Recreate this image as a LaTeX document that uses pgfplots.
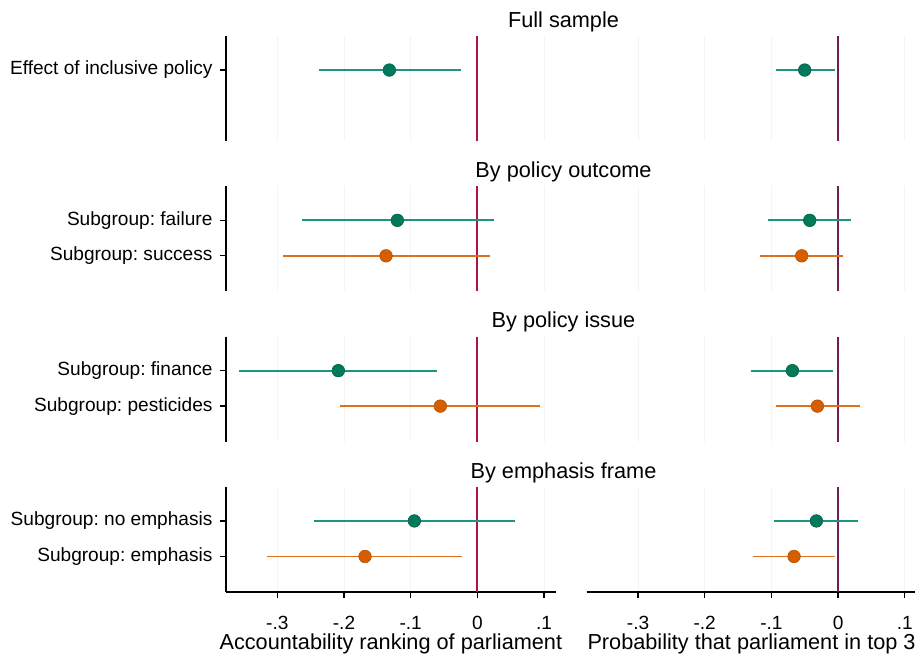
\documentclass[border=0pt]{standalone}
\usepackage{fontspec}
\setmainfont{Liberation Sans}
\usepackage{pgfplots}
\pgfplotsset{compat=1.18}
\frenchspacing

\definecolor{ptG}{RGB}{0,122,90}
\definecolor{lnG}{RGB}{30,150,125}
\definecolor{ptO}{RGB}{213,94,0}
\definecolor{lnO}{RGB}{222,112,30}
\definecolor{zeroL}{RGB}{175,20,70}
\definecolor{zeroR}{RGB}{110,30,80}
\definecolor{gridc}{RGB}{244,244,244}

\newcommand{\lblfont}{\fontsize{19.1bp}{23bp}\selectfont}
\newcommand{\ttlfont}{\fontsize{21.7bp}{26bp}\selectfont}

\pgfplotsset{
  panel/.style={
    scale only axis, width=329.7bp, height=105bp,
    xmin=-0.377, xmax=0.1175, ymin=0.04, ymax=3, y dir=reverse,
    axis x line*=bottom, axis y line*=left,
    xtick={-0.3,-0.2,-0.1,0,0.1},
    xticklabels={-.3,-.2,-.1,0,.1},
    xmajorgrids, major grid style={gridc, line width=0.8bp},
    axis line style={black, line width=1.3bp},
    tick style={black, line width=1.3bp},
    tick align=outside, major tick length=6bp,
    every tick label/.append style={font=\lblfont},
    xticklabel style={anchor=base, yshift=-32bp},
    yticklabel style={xshift=-4bp},
    xlabel style={font=\ttlfont, at={(axis description cs:0.5,0)}, anchor=base, yshift=-57.3bp},
    clip=false, anchor=south west,
  },
  notop/.style={x axis line style={draw=none}, xtick style={draw=none}, xticklabels={}},
  noleft/.style={y axis line style={draw=none}, ytick=\empty},
  ciG/.style={lnG, line width=1.8bp, no marks},
  ciO/.style={lnO, line width=1.8bp, no marks},
  pG/.style={only marks, mark=*, mark size=6.3bp, mark options={fill=ptG, draw=ptG!80!black, line width=0.6bp}},
  pO/.style={only marks, mark=*, mark size=6.3bp, mark options={fill=ptO, draw=ptO!85!black, line width=0.6bp}},
  zL/.style={zeroL, line width=2bp, no marks},
  zR/.style={zeroR, line width=2bp, no marks},
}

\begin{document}
\begin{tikzpicture}
\path[use as bounding box] (0,0) rectangle (915bp,654bp);

% titles of the four rows
\node[font=\ttlfont, anchor=base] at (563.5bp,626.7bp) {Full sample};
\node[font=\ttlfont, anchor=base] at (563.5bp,476.4bp) {By policy outcome};
\node[font=\ttlfont, anchor=base] at (563.5bp,326.1bp) {By policy issue};
\node[font=\ttlfont, anchor=base] at (563.5bp,175.8bp) {By emphasis frame};

% row 1: full sample
\begin{axis}[panel, notop, at={(226bp,513bp)}, ytick={1}, yticklabels={Effect of inclusive policy}]
  \addplot[zL] coordinates {(0,0.04) (0,3)};
  \addplot[ciG] coordinates {(-0.2375,1) (-0.025,1)};
  \addplot[pG] coordinates {(-0.132,1)};
\end{axis}
\begin{axis}[panel, notop, noleft, at={(586.7bp,513bp)}]
  \addplot[zR] coordinates {(0,0.04) (0,3)};
  \addplot[ciG] coordinates {(-0.0935,1) (-0.005,1)};
  \addplot[pG] coordinates {(-0.050,1)};
\end{axis}

% row 2: policy outcome
\begin{axis}[panel, notop, at={(226bp,362.7bp)}, ytick={1,2}, yticklabels={Subgroup: failure, Subgroup: success}]
  \addplot[zL] coordinates {(0,0.04) (0,3)};
  \addplot[ciG] coordinates {(-0.2634,1) (0.0245,1)};
  \addplot[ciO] coordinates {(-0.2915,2) (0.0185,2)};
  \addplot[pG] coordinates {(-0.120,1)};
  \addplot[pO] coordinates {(-0.137,2)};
\end{axis}
\begin{axis}[panel, notop, noleft, at={(586.7bp,362.7bp)}]
  \addplot[zR] coordinates {(0,0.04) (0,3)};
  \addplot[ciG] coordinates {(-0.105,1) (0.020,1)};
  \addplot[ciO] coordinates {(-0.1175,2) (0.0075,2)};
  \addplot[pG] coordinates {(-0.0425,1)};
  \addplot[pO] coordinates {(-0.0545,2)};
\end{axis}

% row 3: policy issue
\begin{axis}[panel, notop, at={(226bp,212.4bp)}, ytick={1,2}, yticklabels={Subgroup: finance, Subgroup: pesticides}]
  \addplot[zL] coordinates {(0,0.04) (0,3)};
  \addplot[ciG] coordinates {(-0.357,1) (-0.060,1)};
  \addplot[ciO] coordinates {(-0.206,2) (0.094,2)};
  \addplot[pG] coordinates {(-0.2085,1)};
  \addplot[pO] coordinates {(-0.0555,2)};
\end{axis}
\begin{axis}[panel, notop, noleft, at={(586.7bp,212.4bp)}]
  \addplot[zR] coordinates {(0,0.04) (0,3)};
  \addplot[ciG] coordinates {(-0.131,1) (-0.007,1)};
  \addplot[ciO] coordinates {(-0.0935,2) (0.0325,2)};
  \addplot[pG] coordinates {(-0.0685,1)};
  \addplot[pO] coordinates {(-0.031,2)};
\end{axis}

% row 4: emphasis frame
\begin{axis}[panel, at={(226bp,62.1bp)}, ytick={1,2}, yticklabels={Subgroup: no emphasis, Subgroup: emphasis},
    xlabel={Accountability ranking of parliament}]
  \addplot[zL] coordinates {(0,0.04) (0,3)};
  \addplot[ciG] coordinates {(-0.245,1) (0.0565,1)};
  \addplot[ciO] coordinates {(-0.316,2) (-0.0225,2)};
  \addplot[pG] coordinates {(-0.0945,1)};
  \addplot[pO] coordinates {(-0.1685,2)};
\end{axis}
\begin{axis}[panel, noleft, at={(586.7bp,62.1bp)},
    xlabel={Probability that parliament in top 3}]
  \addplot[zR] coordinates {(0,0.04) (0,3)};
  \addplot[ciG] coordinates {(-0.096,1) (0.030,1)};
  \addplot[ciO] coordinates {(-0.128,2) (-0.005,2)};
  \addplot[pG] coordinates {(-0.0325,1)};
  \addplot[pO] coordinates {(-0.066,2)};
\end{axis}
\end{tikzpicture}
\end{document}
